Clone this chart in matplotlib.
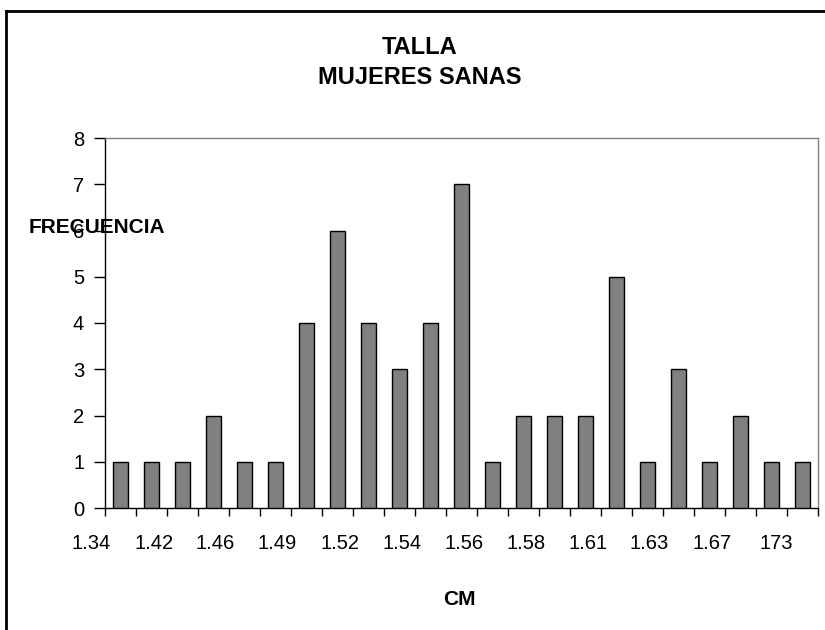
import matplotlib
matplotlib.use("Agg")
import matplotlib.pyplot as plt
from matplotlib.lines import Line2D

plt.rcParams['font.family'] = ['Liberation Sans', 'DejaVu Sans']

categories = ["1.34", "1.40", "1.42", "1.44", "1.46", "1.48", "1.49", "1.50",
              "1.52", "1.53", "1.54", "1.55", "1.56", "1.57", "1.58", "1.60",
              "1.61", "1.62", "1.63", "1.65", "1.67", "1.70", "173"]
frequencies = [1, 1, 1, 2, 1, 1, 4, 6, 4, 3, 4, 7, 1, 2, 2, 2, 5, 1, 3, 1, 2, 1, 1]
shown_labels = ["1.34", "1.42", "1.46", "1.49", "1.52", "1.54", "1.56",
                "1.58", "1.61", "1.63", "1.67", "173"]
y_ticks = [0, 1, 2, 3, 4, 5, 6, 7, 8]

W, H = 825, 630
fig = plt.figure(figsize=(W / 100, H / 100), dpi=100)
ax = fig.add_axes([105 / W, 1 - 508 / H, (818 - 105) / W, (508 - 138) / H])

n = len(frequencies)
x = list(range(n))
ax.bar(x, frequencies, width=0.476, color='#808080', edgecolor='black', linewidth=1.0, zorder=3)

ax.set_xlim(-0.5, n - 0.5)
ax.set_ylim(0, 8)
ax.set_yticks(y_ticks)
ax.set_yticklabels([str(v) for v in y_ticks], fontsize=14.5)
ax.tick_params(axis='y', direction='out', length=8, width=1, pad=7, color='black')

# major ticks at category boundaries (no labels)
ax.set_xticks([i - 0.5 for i in range(n + 1)])
ax.set_xticklabels([])
ax.tick_params(axis='x', which='major', direction='out', length=6, width=1, color='black')

# labels for every other category via minor ticks
ax.set_xticks([i - 0.3 for i in range(0, n, 2)], minor=True)
ax.set_xticklabels(shown_labels, minor=True, fontsize=14.5, ha='right')
ax.tick_params(axis='x', which='minor', length=0, pad=19)

for s in ['left', 'bottom']:
    ax.spines[s].set_color('black')
    ax.spines[s].set_linewidth(1.0)
for s in ['top', 'right']:
    ax.spines[s].set_color('#808080')
    ax.spines[s].set_linewidth(1.0)

# titles and axis labels
fig.text(420 / W, 1 - 53.5 / H, "TALLA", ha='center', va='baseline', fontsize=17, fontweight='bold')
fig.text(420 / W, 1 - 83.5 / H, "MUJERES SANAS", ha='center', va='baseline', fontsize=17, fontweight='bold')
fig.text(29 / W, 1 - 233 / H, "FRECUENCIA", ha='left', va='baseline', fontsize=15, fontweight='bold')
fig.text(459.5 / W, 1 - 605 / H, "CM", ha='center', va='baseline', fontsize=15, fontweight='bold')

# outer chart frame (left and top edges visible)
fig.add_artist(Line2D([6 / W, 6 / W], [0, 1 - 11 / H], transform=fig.transFigure, color='black', linewidth=2))
fig.add_artist(Line2D([6 / W, 1.0], [1 - 11 / H, 1 - 11 / H], transform=fig.transFigure, color='black', linewidth=2))

fig.savefig("out.png", dpi=100)
